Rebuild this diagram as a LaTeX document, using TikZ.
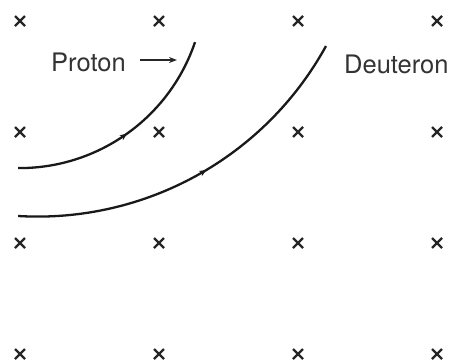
\documentclass[tikz,border=0pt]{standalone}
\usepackage{fontspec}
\setmainfont{TeX Gyre Heros}
\usetikzlibrary{arrows.meta,decorations.markings}
\begin{document}
\begin{tikzpicture}[x=1pt,y=-1pt,
  crossmark/.style={line width=2.3pt,draw=black!85},
  track/.style={line width=2.3pt,draw=black!90,
    postaction={decorate},
    decoration={markings,mark=at position #1 with {\arrow{Stealth[length=7pt,width=6pt]}}}},
  lbl/.style={text=black!80,font=\fontsize{25.5}{30}\selectfont,inner sep=0pt,anchor=base west}]
\useasboundingbox (0,0) rectangle (455,362);
\foreach \cx in {20,159,298,437}{
  \foreach \cy in {21,132,243,354}{
    \draw[crossmark] (\cx-5,\cy-5) -- (\cx+5,\cy+5) (\cx-5,\cy+5) -- (\cx+5,\cy-5);
  }
}
% proton track
\coordinate (pc) at (19.4,-17.3);
\draw[track=0.5] ([shift={(90.4:185.4)}]pc) arc[start angle=90.4,end angle=18.7,radius=185.4];
% deuteron track
\coordinate (dc) at (37.6,-112.5);
\draw[track=0.53] ([shift={(93.4:329.1)}]dc) arc[start angle=93.4,end angle=28.8,radius=329.1];
\node[lbl] (proton) at (51,71) {Proton};
\coordinate (pa) at (177,60);
\draw[-{Stealth[length=8pt,width=6pt]},line width=1.5pt,black!85] (140,60) -- (pa);
\node[lbl] (deut) at (344,73) {Deuteron};
\end{tikzpicture}
\end{document}
